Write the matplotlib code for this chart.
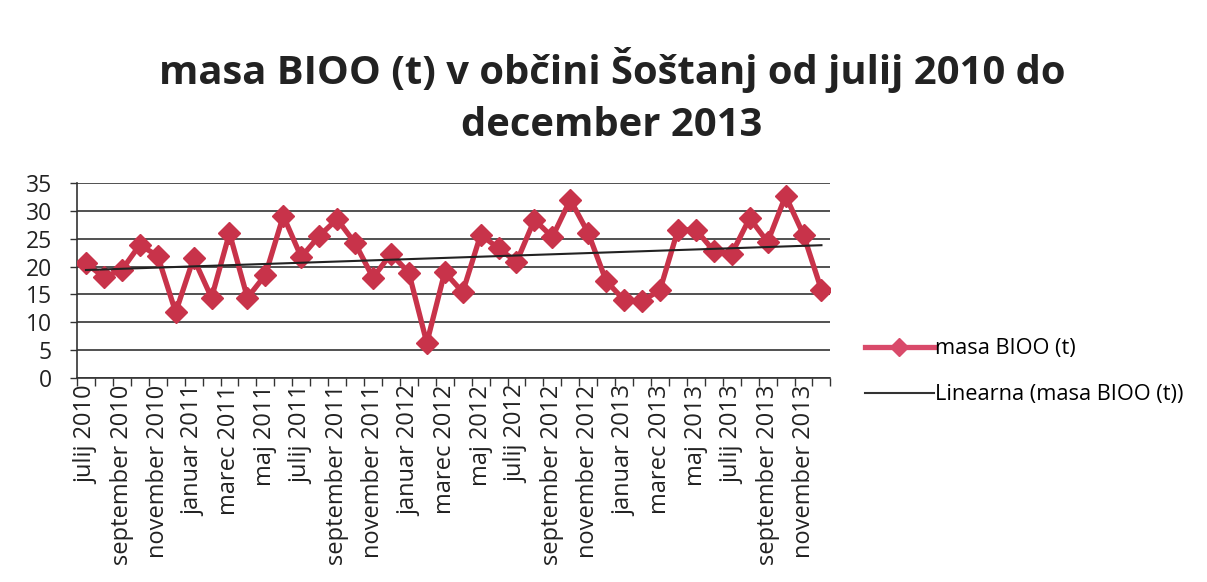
import numpy as np
import matplotlib
matplotlib.use("Agg")
import matplotlib.pyplot as plt
from matplotlib.lines import Line2D

months = ["julij", "avgust", "september", "oktober", "november", "december",
          "januar", "februar", "marec", "april", "maj", "junij"]
categories = []
y, m = 2010, 0
for k in range(42):
    categories.append(f"{months[m]} {y}")
    m += 1
    if m == 6:
        y += 1
    if m == 12:
        m = 0
# categories: julij 2010 ... december 2013
values = [20.6, 18.1, 19.4, 23.9, 21.9, 11.8, 21.5, 14.4, 26.0, 14.4,
          18.5, 29.1, 21.7, 25.5, 28.5, 24.2, 18.0, 22.3, 18.9, 6.3,
          19.0, 15.4, 25.7, 23.3, 20.8, 28.4, 25.3, 32.0, 26.0, 17.4,
          14.0, 13.8, 15.8, 26.6, 26.6, 22.8, 22.3, 28.7, 24.4, 32.7,
          25.7, 15.8]
yticks = [0, 5, 10, 15, 20, 25, 30, 35]
series_name = "masa BIOO (t)"
trend_name = "Linearna (masa BIOO (t))"
title_lines = ["masa BIOO (t) v občini Šoštanj od julij 2010 do", "december 2013"]

plt.rcParams['font.family'] = ['Open Sans', 'DejaVu Sans']

fig = plt.figure(figsize=(12.07, 5.82), dpi=100)
ax = fig.add_axes([0.0638, 0.3505, 0.6242, 0.3351])

x = np.arange(len(values))
red = '#c8334a'
ax.plot(x, values, color=red, lw=3.8, marker='D', markersize=11,
        markeredgecolor=red, markerfacecolor=red, zorder=3)
coef = np.polyfit(x, values, 1)
ax.plot(x, np.polyval(coef, x), color='#222222', lw=1.5, zorder=4)

ax.set_xlim(-0.5, len(values) - 0.5)
ax.set_ylim(0, 35)
ax.set_yticks(yticks)
ax.set_yticklabels([str(v) for v in yticks], fontsize=16.5, color='#222222')
ax.yaxis.grid(True, color='#333333', lw=1.2)
ax.set_axisbelow(True)

ax.set_xticks(x[::2])
ax.set_xticklabels(categories[::2], rotation=90, fontsize=17, color='#222222')
ax.set_xticks(np.arange(len(values) + 1) - 0.5, minor=True)
ax.tick_params(axis='x', which='major', length=0, pad=5)
ax.tick_params(axis='x', which='minor', length=6, width=1, color='#333333')
ax.tick_params(axis='y', length=5, width=1, color='#333333', pad=13)

for s in ['top', 'right']:
    ax.spines[s].set_visible(False)
for s in ['left', 'bottom']:
    ax.spines[s].set_color('#333333')
    ax.spines[s].set_linewidth(1.2)

fig.text(0.507, 1 - 70 / 582, title_lines[0], ha='center', va='center',
         fontsize=28.8, fontweight='bold', color='#222222')
fig.text(0.507, 1 - 125 / 582, title_lines[1], ha='center', va='center',
         fontsize=28.8, fontweight='bold', color='#222222')

handles = [Line2D([], [], color='#d94a6a', lw=3.8, marker='D', markersize=9),
           Line2D([], [], color='#333333', lw=1.5)]
fig.legend(handles, [series_name, trend_name], loc='center left',
           bbox_to_anchor=(0.700, 0.361), frameon=False, fontsize=15.7,
           handlelength=3.2, handletextpad=0.05, labelspacing=1.15)

fig.savefig("out.png", dpi=100)
